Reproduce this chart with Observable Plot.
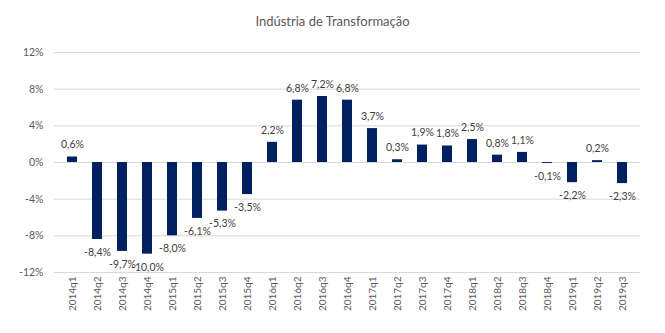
<!DOCTYPE html>
<html>
<head>
<meta charset="utf-8">
<script src="https://cdn.jsdelivr.net/npm/d3@7"></script>
<script src="https://cdn.jsdelivr.net/npm/@observablehq/plot@0.6"></script>
<style>
  html, body { margin: 0; padding: 0; background: #fff; }
  #title { height: 40px; width: 665px; box-sizing: border-box; padding-top: 13px; text-align: center;
    font-family: Lato, "Open Sans", sans-serif; font-size: 13px; color: #595959; }
  #chart svg { display: block; }
</style>
</head>
<body>
<div id="title">Indústria de Transformação</div>
<div id="chart"></div>
<script>
const quarters = ["2014q1","2014q2","2014q3","2014q4","2015q1","2015q2","2015q3","2015q4",
  "2016q1","2016q2","2016q3","2016q4","2017q1","2017q2","2017q3","2017q4",
  "2018q1","2018q2","2018q3","2018q4","2019q1","2019q2","2019q3"];
const values = [0.6, -8.4, -9.7, -10.0, -8.0, -6.1, -5.3, -3.5, 2.2, 6.8, 7.2, 6.8, 3.7, 0.3, 1.9, 1.8, 2.5, 0.8, 1.1, -0.1, -2.2, 0.2, -2.3];
const yTicks = [-12, -8, -4, 0, 4, 8, 12];

const data = quarters.map((q, i) => ({q, v: values[i]}));
const pos = data.filter(d => d.v >= 0);
const neg = data.filter(d => d.v < 0);
const fmt = v => v.toFixed(1).replace(".", ",") + "%";

const chart = Plot.plot({
  width: 665,
  height: 293,
  marginTop: 12,
  marginBottom: 61,
  marginLeft: 56,
  marginRight: 27,
  style: {fontFamily: "Lato, 'Open Sans', sans-serif", color: "#595959", background: "#fff"},
  x: {domain: quarters, paddingInner: 0.6, paddingOuter: 0.3, label: null},
  y: {domain: [-12, 12], label: null},
  marks: [
    Plot.ruleY(yTicks, {stroke: "#d9d9d9", strokeWidth: 1, insetLeft: -2, insetRight: -2}),
    Plot.barY(data, {x: "q", y: "v", fill: "#002060"}),
    Plot.text(pos, {x: "q", y: "v", text: d => fmt(d.v), dy: -12, fill: "#404040", fontSize: 10.5}),
    Plot.text(neg, {x: "q", y: "v", text: d => fmt(d.v), dy: 13, fill: "#404040", fontSize: 10.5}),
    Plot.axisX({tickSize: 0, tickRotate: -90, tickPadding: 4, fontSize: 10, fill: "#595959", label: null}),
    Plot.axisY({ticks: yTicks, tickFormat: d => d + "%", tickSize: 0, tickPadding: 13, fontSize: 10.5, fill: "#595959", label: null})
  ]
});
document.getElementById("chart").appendChild(chart);
</script>
</body>
</html>
